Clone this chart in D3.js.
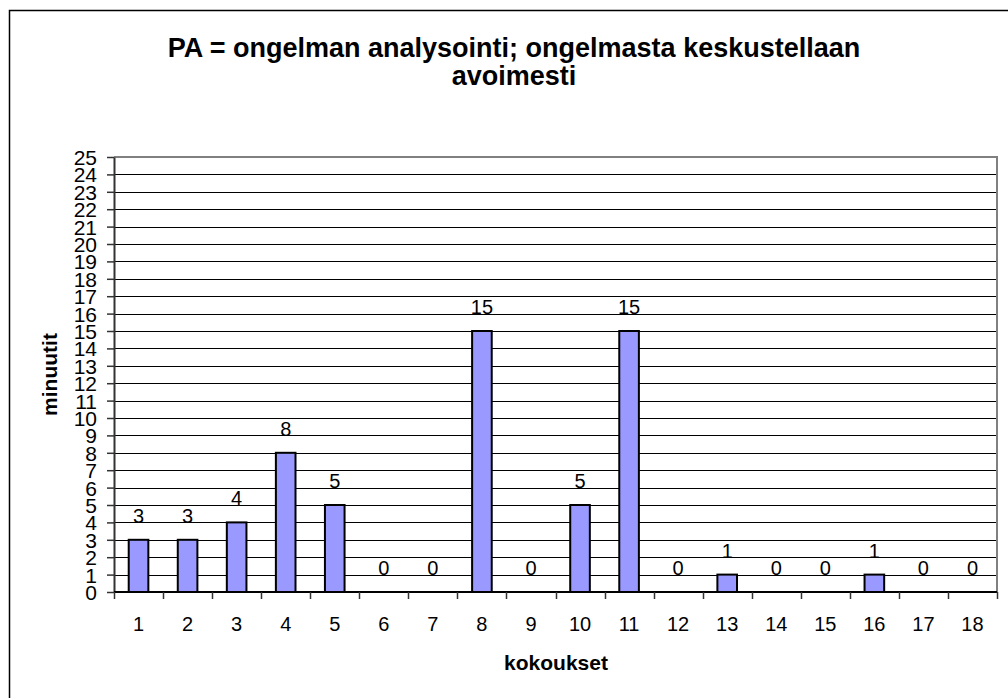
<!DOCTYPE html>
<html>
<head>
<meta charset="utf-8">
<script src="https://cdn.jsdelivr.net/npm/d3@7"></script>
<style>
  body { margin: 0; background: #fff; }
  svg { display: block; font-family: Arial, "Liberation Sans", sans-serif; }
</style>
</head>
<body>
<div id="chart"></div>
<script>
// Minutes per meeting
const meetings = ["1","2","3","4","5","6","7","8","9","10","11","12","13","14","15","16","17","18"];
const minutes = [3, 3, 4, 8, 5, 0, 0, 15, 0, 5, 15, 0, 1, 0, 0, 1, 0, 0];
const yTicks = d3.range(0, 26);

const titleLines = ["PA = ongelman analysointi; ongelmasta keskustellaan", "avoimesti"];
const xTitle = "kokoukset";
const yTitle = "minuutit";

const W = 1008, H = 698;
const plot = { left: 114, right: 997, top: 157, bottom: 592 };

const svg = d3.select("#chart").append("svg")
    .attr("width", W)
    .attr("height", H);

// outer chart border (runs off the right and bottom edge)
svg.append("rect")
    .attr("x", 9.5).attr("y", 10.5)
    .attr("width", 1010).attr("height", 700)
    .attr("fill", "#fff")
    .attr("stroke", "#000")
    .attr("stroke-width", 1.5);

const x = d3.scaleBand()
    .domain(meetings)
    .range([plot.left, plot.right])
    .paddingInner(0.6)
    .paddingOuter(0.3);

const y = d3.scaleLinear()
    .domain([0, 25])
    .range([plot.bottom, plot.top]);

// gridlines
svg.append("g")
    .selectAll("line")
    .data(yTicks.filter(d => d > 0 && d < 25))
    .join("line")
    .attr("x1", plot.left).attr("x2", plot.right)
    .attr("y1", d => Math.round(y(d)) + 0.5)
    .attr("y2", d => Math.round(y(d)) + 0.5)
    .attr("stroke", "#000")
    .attr("stroke-width", 1);

// plot frame top + right
svg.append("path")
    .attr("d", `M${plot.left},${plot.top}H${plot.right}V${plot.bottom}`)
    .attr("fill", "none")
    .attr("stroke", "#808080")
    .attr("stroke-width", 2);

// bars
svg.append("g")
    .selectAll("rect")
    .data(minutes)
    .join("rect")
    .attr("x", (d, i) => x(meetings[i]))
    .attr("y", d => y(d))
    .attr("width", x.bandwidth())
    .attr("height", d => y(0) - y(d))
    .attr("fill", d => d > 0 ? "#9999ff" : "none")
    .attr("stroke", d => d > 0 ? "#000" : "none")
    .attr("stroke-width", 2);

// value labels
svg.append("g")
    .selectAll("text")
    .data(minutes)
    .join("text")
    .attr("x", (d, i) => x(meetings[i]) + x.bandwidth() / 2)
    .attr("y", d => y(d) - 17)
    .attr("text-anchor", "middle")
    .attr("font-size", 20)
    .text(d => d);

// y axis
const yAxis = d3.axisLeft(y)
    .tickValues(yTicks)
    .tickSize(7)
    .tickPadding(10)
    .tickSizeOuter(0);

const gy = svg.append("g")
    .attr("transform", `translate(${plot.left},0)`)
    .call(yAxis);
gy.select(".domain").attr("stroke", "#333").attr("stroke-width", 2);
gy.selectAll(".tick line").attr("stroke", "#333").attr("stroke-width", 1.5);
gy.selectAll(".tick text")
    .attr("font-size", 21)
    .attr("font-family", "Arial, 'Liberation Sans', sans-serif")
    .attr("fill", "#000")
    .attr("dy", "0.36em");

// x axis: ticks between categories
const gx = svg.append("g");
gx.append("line")
    .attr("x1", plot.left).attr("x2", plot.right)
    .attr("y1", plot.bottom).attr("y2", plot.bottom)
    .attr("stroke", "#000")
    .attr("stroke-width", 2);
gx.selectAll(".sep")
    .data(d3.range(0, meetings.length + 1))
    .join("line")
    .attr("class", "sep")
    .attr("x1", i => Math.round(plot.left + i * x.step()) + 0.5)
    .attr("x2", i => Math.round(plot.left + i * x.step()) + 0.5)
    .attr("y1", plot.bottom)
    .attr("y2", plot.bottom + 7)
    .attr("stroke", "#333")
    .attr("stroke-width", 1.5);
gx.selectAll("text")
    .data(meetings)
    .join("text")
    .attr("x", d => x(d) + x.bandwidth() / 2)
    .attr("y", 631)
    .attr("text-anchor", "middle")
    .attr("font-size", 20)
    .text(d => d);

// titles
svg.append("text")
    .attr("x", 514)
    .attr("y", 57)
    .attr("text-anchor", "middle")
    .attr("font-size", 27)
    .attr("font-weight", "bold")
    .selectAll("tspan")
    .data(titleLines)
    .join("tspan")
    .attr("x", 514)
    .attr("dy", (d, i) => i === 0 ? 0 : 28)
    .text(d => d);

svg.append("text")
    .attr("x", 556)
    .attr("y", 670)
    .attr("text-anchor", "middle")
    .attr("font-size", 21)
    .attr("font-weight", "bold")
    .text(xTitle);

svg.append("text")
    .attr("transform", `translate(57,${(plot.top + plot.bottom) / 2}) rotate(-90)`)
    .attr("text-anchor", "middle")
    .attr("font-size", 21)
    .attr("font-weight", "bold")
    .text(yTitle);
</script>
</body>
</html>
